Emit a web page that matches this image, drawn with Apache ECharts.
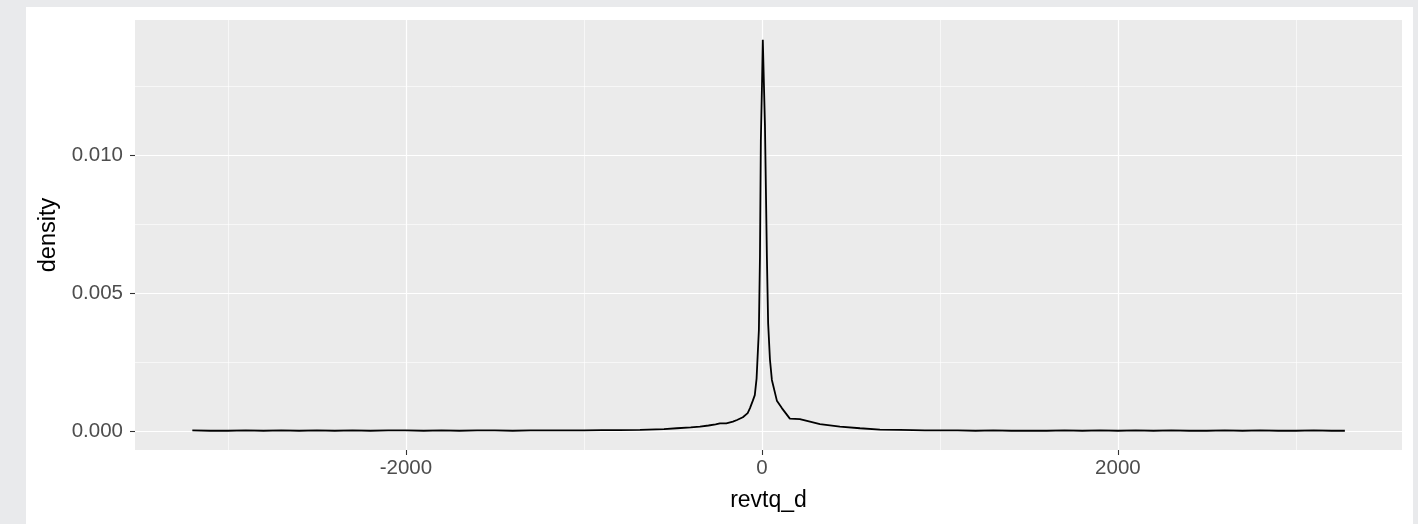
<!DOCTYPE html>
<html>
<head>
<meta charset="utf-8">
<script src="https://cdn.jsdelivr.net/npm/echarts@6/dist/echarts.min.js"></script>
<style>
  html, body { margin: 0; padding: 0; background: #e9eaec; }
  #frame { position: absolute; left: 26px; top: 7px; width: 1387px; height: 517px; background: #ffffff; }
  #chart { position: absolute; left: 0; top: 0; width: 1387px; height: 517px; }
</style>
</head>
<body>
<div id="frame"><div id="chart"></div></div>
<script>
// Data (revtq_d vs density)
const revtq = [
  -3200, -3100, -3000, -2900, -2800, -2700, -2600, -2500, -2400, -2300,
  -2200, -2100, -2000, -1900, -1800, -1700, -1600, -1500, -1400, -1300,
  -1200, -1100, -1000, -900, -800, -685, -550, -478, -400, -348,
  -300, -260, -236, -200, -163, -140, -107, -80, -67, -51,
  -40, -30, -17, -11, -6, 0, 5, 17, 28, 35,
  45, 56, 84, 112, 157, 213, 270, 326, 438, 551,
  663, 775, 850, 916, 1000, 1100, 1200, 1300, 1400, 1500,
  1600, 1700, 1800, 1900, 2000, 2100, 2200, 2300, 2400, 2500,
  2600, 2700, 2800, 2900, 3000, 3100, 3200, 3275
];
const density = [
  0.00002, 0.00001, 0.00001, 0.00002, 0.00001, 0.00002, 0.00001, 0.00002, 0.00001, 0.00002,
  0.00001, 0.00002, 0.00002, 0.00001, 0.00002, 0.00001, 0.00002, 0.00002, 0.00001, 0.00002,
  0.00002, 0.00002, 0.00002, 0.00003, 0.00003, 0.00004, 0.00007, 0.00010, 0.00013, 0.000156,
  0.00020, 0.00024, 0.00028, 0.00028, 0.00034, 0.00040, 0.00050, 0.00065, 0.00083, 0.00110,
  0.00130, 0.00190, 0.00366, 0.00630, 0.01050, 0.01240, 0.01417, 0.01110, 0.00630, 0.00390,
  0.00260, 0.00185, 0.00110, 0.00083, 0.00045, 0.00043, 0.00034, 0.00025, 0.00016, 0.00010,
  0.00005, 0.00004, 0.00003, 0.00002, 0.00002, 0.00002, 0.00001, 0.00002, 0.00001, 0.00001,
  0.00001, 0.00002, 0.00001, 0.00002, 0.00001, 0.00002, 0.00001, 0.00002, 0.00001, 0.00001,
  0.00002, 0.00001, 0.00002, 0.00001, 0.00001, 0.00002, 0.00001, 0.00001
];
const xMajorTicks = [-2000, 0, 2000];
const xMinorTicks = [-3000, -1000, 1000, 3000];
const yMajorTicks = [0, 0.005, 0.010];
const yMinorTicks = [0.0025, 0.0075, 0.0125];
const xTitle = 'revtq_d';
const yTitle = 'density';

const points = revtq.map((x, i) => [x, density[i]]);

const chart = echarts.init(document.getElementById('chart'), null, { renderer: 'canvas' });
const FONT = '"Liberation Sans", Arial, sans-serif';
const X_MIN = -3522, X_MAX = 3596, Y_MIN = -0.000688, Y_MAX = 0.01489;

chart.setOption({
  animation: false,
  backgroundColor: '#ffffff',
  grid: { left: 109, right: 11, top: 13, bottom: 74, show: true, backgroundColor: '#EBEBEB', borderWidth: 0 },
  xAxis: [
    {
      type: 'value', min: X_MIN, max: X_MAX, position: 'bottom',
      name: xTitle, nameLocation: 'middle', nameGap: 39,
      nameTextStyle: { color: '#000000', fontSize: 23, fontFamily: FONT },
      axisLine: { show: false, onZero: false },
      axisTick: { show: true, customValues: xMajorTicks, length: 5, lineStyle: { color: '#333333', width: 1.1 } },
      axisLabel: { customValues: xMajorTicks, color: '#4D4D4D', fontSize: 20.5, fontFamily: FONT, margin: 8,
        formatter: v => String(v) },
      splitLine: { show: true, lineStyle: { color: '#ffffff', width: 1.2 } }
    },
    {
      type: 'value', min: X_MIN, max: X_MAX, position: 'bottom',
      axisLine: { show: false, onZero: false },
      axisTick: { show: false, customValues: xMinorTicks },
      axisLabel: { show: false, customValues: xMinorTicks },
      splitLine: { show: true, lineStyle: { color: '#ffffff', width: 0.6 } }
    }
  ],
  yAxis: [
    {
      type: 'value', min: Y_MIN, max: Y_MAX, position: 'left',
      name: yTitle, nameLocation: 'middle', nameGap: 74, nameRotate: 90,
      nameTextStyle: { color: '#000000', fontSize: 23.5, fontFamily: FONT },
      axisLine: { show: false, onZero: false },
      axisTick: { show: true, customValues: yMajorTicks, length: 5, lineStyle: { color: '#333333', width: 1.1 } },
      axisLabel: { customValues: yMajorTicks, color: '#4D4D4D', fontSize: 20.5, fontFamily: FONT, margin: 12,
        formatter: v => v.toFixed(3) },
      splitLine: { show: true, lineStyle: { color: '#ffffff', width: 1.2 } }
    },
    {
      type: 'value', min: Y_MIN, max: Y_MAX, position: 'left',
      axisLine: { show: false, onZero: false },
      axisTick: { show: false, customValues: yMinorTicks },
      axisLabel: { show: false, customValues: yMinorTicks },
      splitLine: { show: true, lineStyle: { color: '#ffffff', width: 0.6 } }
    }
  ],
  series: [{
    type: 'line',
    xAxisIndex: 0, yAxisIndex: 0,
    data: points,
    showSymbol: false,
    smooth: false,
    lineStyle: { color: '#000000', width: 1.8 },
    z: 5
  }]
});
</script>
</body>
</html>
